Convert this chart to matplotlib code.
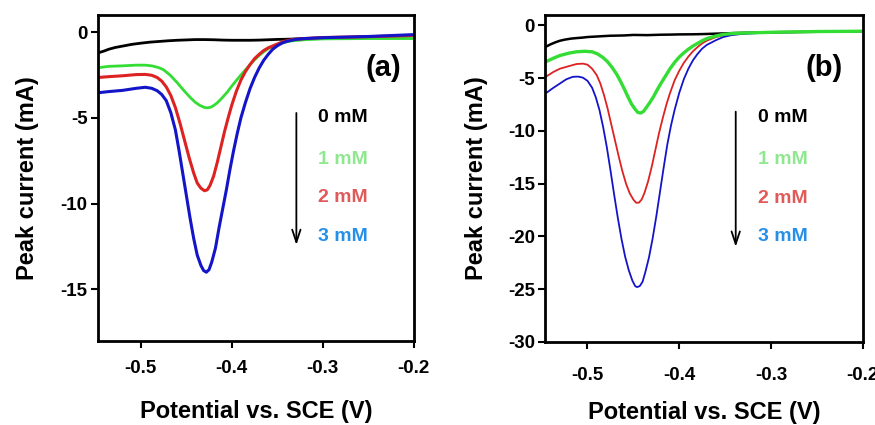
import matplotlib
matplotlib.use("Agg")
import matplotlib.pyplot as plt

plt.rcParams['font.family'] = ['Liberation Sans', 'DejaVu Sans']
plt.rcParams['font.weight'] = 'bold'
plt.rcParams['axes.unicode_minus'] = False

# ---------------- Panel (a) data ----------------
a_black_x = [-0.547, -0.54, -0.535, -0.528, -0.52, -0.51, -0.50, -0.49, -0.48, -0.47, -0.46, -0.45, -0.44, -0.43, -0.42, -0.41, -0.40, -0.39, -0.38, -0.37, -0.36, -0.35, -0.34, -0.32, -0.30, -0.25, -0.20]
a_black_y = [-1.22, -1.10, -1.00, -0.90, -0.82, -0.72, -0.65, -0.59, -0.55, -0.51, -0.48, -0.46, -0.44, -0.44, -0.45, -0.47, -0.48, -0.48, -0.48, -0.47, -0.45, -0.43, -0.42, -0.38, -0.35, -0.28, -0.22]

a_green_x = [-0.547, -0.535, -0.52, -0.505, -0.495, -0.487, -0.48, -0.475, -0.468, -0.46, -0.452, -0.445, -0.44, -0.435, -0.43, -0.427, -0.423, -0.419, -0.415, -0.41, -0.405, -0.40, -0.395, -0.39, -0.385, -0.38, -0.375, -0.37, -0.365, -0.36, -0.355, -0.35, -0.345, -0.335, -0.32, -0.30, -0.25, -0.20]
a_green_y = [-2.08, -2.00, -1.97, -1.93, -1.93, -1.98, -2.08, -2.20, -2.50, -2.95, -3.45, -3.85, -4.10, -4.28, -4.40, -4.42, -4.38, -4.25, -4.08, -3.80, -3.50, -3.15, -2.82, -2.50, -2.20, -1.90, -1.62, -1.37, -1.15, -0.97, -0.83, -0.72, -0.63, -0.52, -0.45, -0.40, -0.38, -0.38]

a_red_x = [-0.547, -0.535, -0.52, -0.505, -0.495, -0.488, -0.482, -0.477, -0.472, -0.467, -0.462, -0.457, -0.452, -0.447, -0.442, -0.438, -0.434, -0.43, -0.427, -0.424, -0.42, -0.416, -0.412, -0.408, -0.404, -0.40, -0.395, -0.39, -0.385, -0.38, -0.375, -0.37, -0.365, -0.36, -0.35, -0.343, -0.335, -0.32, -0.30, -0.25, -0.20]
a_red_y = [-2.65, -2.60, -2.55, -2.48, -2.47, -2.52, -2.65, -2.86, -3.20, -3.70, -4.40, -5.30, -6.30, -7.30, -8.20, -8.80, -9.10, -9.25, -9.20, -8.95, -8.40, -7.60, -6.70, -5.80, -5.00, -4.25, -3.45, -2.80, -2.30, -1.90, -1.55, -1.30, -1.08, -0.92, -0.70, -0.55, -0.45, -0.38, -0.32, -0.27, -0.20]

a_blue_x = [-0.547, -0.535, -0.52, -0.505, -0.495, -0.488, -0.482, -0.477, -0.472, -0.467, -0.462, -0.458, -0.454, -0.45, -0.446, -0.442, -0.438, -0.434, -0.431, -0.428, -0.425, -0.422, -0.418, -0.414, -0.41, -0.406, -0.402, -0.398, -0.394, -0.39, -0.385, -0.38, -0.375, -0.37, -0.365, -0.36, -0.355, -0.35, -0.345, -0.34, -0.33, -0.32, -0.30, -0.25, -0.20]
a_blue_y = [-3.54, -3.47, -3.40, -3.28, -3.22, -3.28, -3.42, -3.64, -4.00, -4.70, -5.70, -6.90, -8.20, -9.50, -10.80, -12.00, -13.00, -13.60, -13.90, -14.00, -13.85, -13.40, -12.60, -11.40, -10.30, -9.20, -8.00, -6.90, -5.90, -5.00, -4.10, -3.30, -2.65, -2.10, -1.65, -1.30, -1.00, -0.80, -0.65, -0.55, -0.43, -0.38, -0.33, -0.26, -0.15]

# ---------------- Panel (b) data ----------------
b_black_x = [-0.545, -0.54, -0.535, -0.53, -0.525, -0.518, -0.512, -0.505, -0.50, -0.49, -0.476, -0.46, -0.45, -0.435, -0.42, -0.41, -0.40, -0.385, -0.374, -0.36, -0.35, -0.33, -0.30, -0.25, -0.20]
b_black_y = [-2.00, -1.78, -1.60, -1.45, -1.35, -1.25, -1.20, -1.15, -1.10, -1.05, -0.98, -0.95, -0.90, -0.92, -0.88, -0.87, -0.85, -0.84, -0.82, -0.78, -0.75, -0.70, -0.65, -0.60, -0.55]

b_green_x = [-0.545, -0.537, -0.53, -0.52, -0.512, -0.503, -0.495, -0.489, -0.483, -0.478, -0.473, -0.468, -0.464, -0.46, -0.456, -0.452, -0.448, -0.445, -0.442, -0.439, -0.436, -0.432, -0.428, -0.424, -0.42, -0.415, -0.41, -0.405, -0.40, -0.395, -0.39, -0.385, -0.38, -0.375, -0.37, -0.36, -0.352, -0.34, -0.32, -0.30, -0.25, -0.20]
b_green_y = [-3.42, -3.10, -2.85, -2.62, -2.50, -2.45, -2.50, -2.70, -3.05, -3.45, -4.00, -4.65, -5.30, -6.00, -6.75, -7.45, -7.95, -8.25, -8.30, -8.15, -7.80, -7.30, -6.75, -6.10, -5.50, -4.80, -4.10, -3.50, -3.00, -2.60, -2.25, -1.95, -1.70, -1.45, -1.25, -1.00, -0.85, -0.75, -0.70, -0.65, -0.58, -0.55]

b_red_x = [-0.545, -0.537, -0.53, -0.52, -0.512, -0.505, -0.50, -0.495, -0.49, -0.486, -0.482, -0.478, -0.474, -0.47, -0.466, -0.462, -0.458, -0.454, -0.45, -0.447, -0.444, -0.441, -0.438, -0.434, -0.43, -0.426, -0.422, -0.418, -0.414, -0.41, -0.405, -0.40, -0.395, -0.39, -0.385, -0.38, -0.375, -0.37, -0.36, -0.352, -0.34, -0.32, -0.30, -0.25, -0.20]
b_red_y = [-4.84, -4.40, -4.10, -3.85, -3.66, -3.62, -3.72, -4.10, -4.70, -5.50, -6.60, -7.90, -9.40, -10.90, -12.40, -13.80, -15.00, -15.90, -16.50, -16.80, -16.80, -16.50, -15.90, -14.80, -13.40, -11.80, -10.20, -8.80, -7.50, -6.40, -5.20, -4.30, -3.55, -2.95, -2.45, -2.05, -1.70, -1.45, -1.10, -0.95, -0.80, -0.70, -0.65, -0.58, -0.55]

b_blue_x = [-0.545, -0.537, -0.53, -0.523, -0.516, -0.51, -0.505, -0.50, -0.495, -0.491, -0.487, -0.483, -0.479, -0.475, -0.471, -0.467, -0.463, -0.459, -0.455, -0.451, -0.448, -0.446, -0.443, -0.44, -0.437, -0.433, -0.429, -0.425, -0.421, -0.417, -0.413, -0.409, -0.405, -0.40, -0.395, -0.39, -0.385, -0.38, -0.375, -0.37, -0.36, -0.352, -0.343, -0.333, -0.32, -0.30, -0.25, -0.20]
b_blue_y = [-6.40, -5.90, -5.50, -5.10, -4.87, -4.85, -4.95, -5.25, -5.90, -6.80, -8.00, -9.60, -11.50, -13.70, -16.00, -18.20, -20.20, -21.90, -23.20, -24.20, -24.70, -24.80, -24.70, -24.30, -23.40, -22.00, -20.20, -18.10, -15.80, -13.50, -11.30, -9.50, -8.00, -6.40, -5.10, -4.10, -3.30, -2.70, -2.20, -1.85, -1.40, -1.10, -0.92, -0.82, -0.75, -0.68, -0.60, -0.55]

x_ticks = [-0.5, -0.4, -0.3, -0.2]
x_tick_labels = ['-0.5', '-0.4', '-0.3', '-0.2']
a_y_ticks = [0, -5, -10, -15]
b_y_ticks = [0, -5, -10, -15, -20, -25, -30]
conc_labels = ['0 mM', '1 mM', '2 mM', '3 mM']

line_colors = {'black': '#000000', 'green': '#33dd33', 'red': '#dd2222', 'blue': '#1414c8'}
label_colors = ['#000000', '#8fe88f', '#e05a5a', '#2690e8']

fig = plt.figure(figsize=(8.75, 4.25), dpi=100)
axA = fig.add_axes([0.112, 0.198, 0.361, 0.767])
axB = fig.add_axes([0.6232, 0.1953, 0.3627, 0.7697])

style = dict(solid_joinstyle='round', solid_capstyle='round')

# Panel (a)
axA.plot(a_black_x, a_black_y, color=line_colors['black'], lw=2.0, **style)
axA.plot(a_green_x, a_green_y, color=line_colors['green'], lw=2.0, **style)
axA.plot(a_red_x, a_red_y, color=line_colors['red'], lw=2.2, **style)
axA.plot(a_blue_x, a_blue_y, color=line_colors['blue'], lw=2.2, **style)
axA.set_xlim(-0.547, -0.2)
axA.set_ylim(-18, 1)
axA.set_yticks(a_y_ticks)

# Panel (b)
axB.plot(b_black_x, b_black_y, color=line_colors['black'], lw=1.8, **style)
axB.plot(b_red_x, b_red_y, color=line_colors['red'], lw=1.3, **style)
axB.plot(b_blue_x, b_blue_y, color=line_colors['blue'], lw=1.3, **style)
axB.plot(b_green_x, b_green_y, color=line_colors['green'], lw=2.4, **style)
axB.set_xlim(-0.546, -0.2)
axB.set_ylim(-30, 1)
axB.set_yticks(b_y_ticks)

for ax, padx in ((axA, 8.5), (axB, 12.7)):
    ax.set_xticks(x_ticks)
    ax.set_xticklabels(x_tick_labels)
    for s in ax.spines.values():
        s.set_linewidth(2.0)
    ax.tick_params(axis='both', direction='out', length=5, width=1.5, labelsize=13.5)
    ax.tick_params(axis='x', pad=padx)
    ax.tick_params(axis='y', pad=2.5)
    for lab in ax.get_xticklabels() + ax.get_yticklabels():
        lab.set_fontweight('bold')

axA.set_xlabel('Potential vs. SCE (V)', fontsize=17, fontweight='bold', labelpad=16.5)
axA.set_ylabel('Peak current (mA)', fontsize=17, fontweight='bold', labelpad=15.5)
axB.set_xlabel('Potential vs. SCE (V)', fontsize=17, fontweight='bold', labelpad=12.8)
axB.set_ylabel('Peak current (mA)', fontsize=17, fontweight='bold', labelpad=14)

# panel letters
axA.text(0.902, 0.837, '(a)', transform=axA.transAxes, fontsize=21, fontweight='bold', ha='center', va='center')
axB.text(0.878, 0.838, '(b)', transform=axB.transAxes, fontsize=21, fontweight='bold', ha='center', va='center')

# concentration labels and arrows
a_lab_y = [0.684, 0.555, 0.439, 0.319]
b_lab_y = [0.685, 0.557, 0.440, 0.321]
for lab, c, ya, yb in zip(conc_labels, label_colors, a_lab_y, b_lab_y):
    axA.text(0.696, ya, lab, transform=axA.transAxes, color=c, fontsize=14, fontweight='bold', ha='left', va='center')
    axB.text(0.670, yb, lab, transform=axB.transAxes, color=c, fontsize=14, fontweight='bold', ha='left', va='center')

arrow_props = dict(arrowstyle='->,head_length=0.9,head_width=0.3', lw=1.3, color='black', shrinkA=0, shrinkB=0)
axA.annotate('', xy=(0.628, 0.294), xytext=(0.628, 0.699), xycoords='axes fraction', textcoords='axes fraction', arrowprops=arrow_props)
axB.annotate('', xy=(0.600, 0.291), xytext=(0.600, 0.704), xycoords='axes fraction', textcoords='axes fraction', arrowprops=arrow_props)

fig.savefig('out.png', dpi=100)
